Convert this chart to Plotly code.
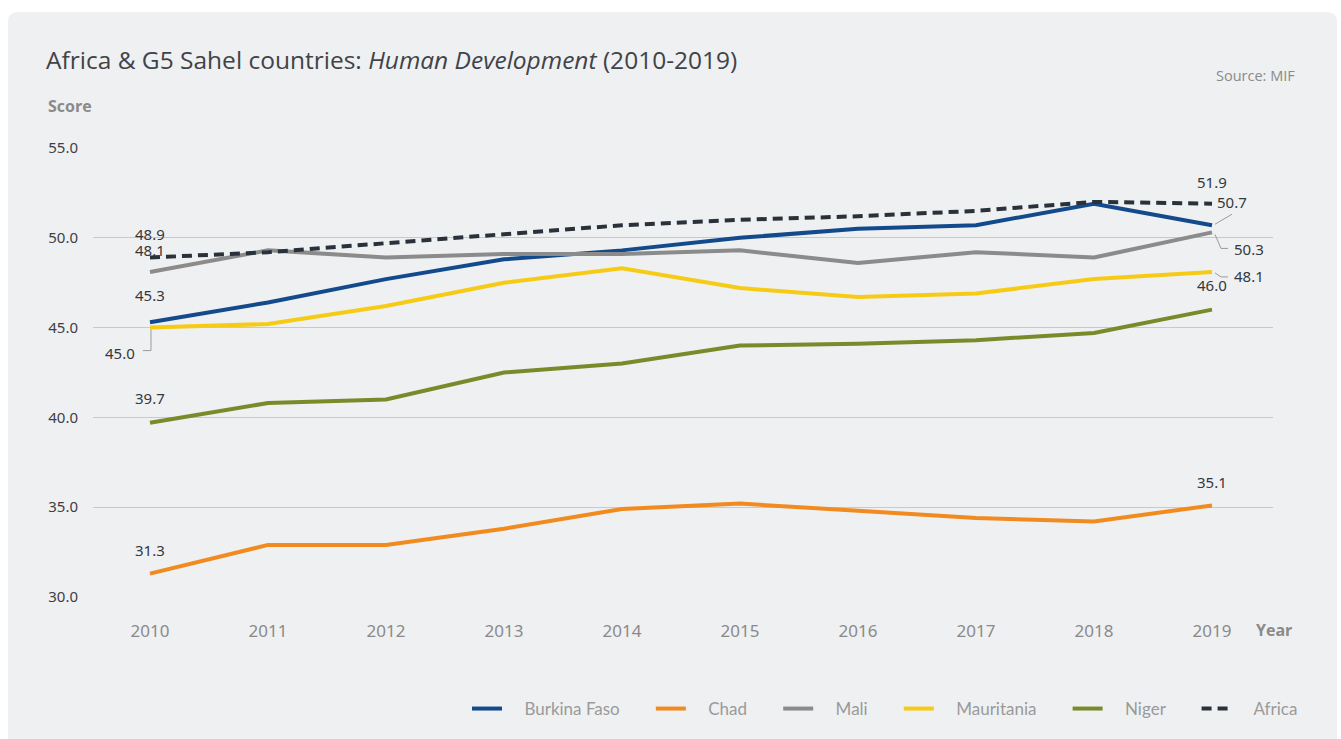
import plotly.graph_objects as go

# Human Development scores, 2010-2019
years = [2010, 2011, 2012, 2013, 2014, 2015, 2016, 2017, 2018, 2019]
burkina_faso = [45.3, 46.4, 47.7, 48.8, 49.3, 50.0, 50.5, 50.7, 51.9, 50.7]
chad = [31.3, 32.9, 32.9, 33.8, 34.9, 35.2, 34.8, 34.4, 34.2, 35.1]
mali = [48.1, 49.3, 48.9, 49.1, 49.1, 49.3, 48.6, 49.2, 48.9, 50.3]
mauritania = [45.0, 45.2, 46.2, 47.5, 48.3, 47.2, 46.7, 46.9, 47.7, 48.1]
niger = [39.7, 40.8, 41.0, 42.5, 43.0, 44.0, 44.1, 44.3, 44.7, 46.0]
africa = [48.9, 49.2, 49.7, 50.2, 50.7, 51.0, 51.2, 51.5, 52.0, 51.9]

y_ticks = [30, 35, 40, 45, 50, 55]

series = [
    ("Burkina Faso", burkina_faso, "#124a8c", "solid"),
    ("Chad", chad, "#f18a1f", "solid"),
    ("Mali", mali, "#8b8b8b", "solid"),
    ("Mauritania", mauritania, "#f6cb16", "solid"),
    ("Niger", niger, "#7a8a2a", "solid"),
    ("Africa", africa, "#29323a", "10px,6px"),
]

W, H = 1341, 739
L, R, T, B = 93, 68, 148, 142
PW, PH = W - L - R, H - T - B
CARD = "#eff0f2"
FONT = "'Open Sans', 'Noto Sans', sans-serif"
LEGFONT = "Lato, 'Open Sans', sans-serif"
NUMFONT = "'Noto Sans', 'Open Sans', sans-serif"
LEAD = "&nbsp;" * 4   # room between legend symbol and its text
PAD = "&nbsp;" * 6    # room between legend entries


def px_x(p):
    return (p - L) / PW


def px_y(p):
    return (H - B - p) / PH


fig = go.Figure()

for i, (name, vals, color, dash) in enumerate(series):
    label = LEAD + name + ("" if i == len(series) - 1 else PAD)
    fig.add_trace(go.Scatter(
        x=years, y=vals, name=label, mode="lines",
        line=dict(color=color, width=4, dash=dash),
        cliponaxis=False,
    ))

# value labels at the first and last year: (series values, index, xshift, yshift)
label_specs = [
    (africa, 0, 0, 24),
    (mali, 0, 0, 22),
    (burkina_faso, 0, 0, 27),
    (mauritania, 0, -30, -25),
    (niger, 0, 0, 25),
    (chad, 0, 0, 24),
    (africa, -1, 0, 22),
    (burkina_faso, -1, 20, 23),
    (mali, -1, 37, -17),
    (mauritania, -1, 37, -4),
    (niger, -1, 0, 25),
    (chad, -1, 0, 23),
]

annotations = []
for vals, idx, dx, dy in label_specs:
    annotations.append(dict(
        x=years[idx], y=vals[idx], xref="x", yref="y",
        text=f"{vals[idx]:.1f}", showarrow=False,
        xshift=dx, yshift=dy,
        font=dict(family=NUMFONT, size=15, color="#34383c"),
    ))

annotations += [
    dict(x=px_x(46), y=px_y(106), xref="paper", yref="paper", text="<b>Score</b>",
         showarrow=False, xanchor="left", yanchor="middle",
         font=dict(family=FONT, size=16, color="#8a8a8a")),
    dict(x=px_x(1297), y=px_y(75), xref="paper", yref="paper", text="Source: MIF",
         showarrow=False, xanchor="right", yanchor="middle",
         font=dict(family=FONT, size=14.5, color="#8a8a8a")),
    dict(x=px_x(1274), y=px_y(630), xref="paper", yref="paper", text="<b>Year</b>",
         showarrow=False, xanchor="center", yanchor="middle",
         font=dict(family=FONT, size=16, color="#8a8a8a")),
]

LEADER = dict(color="#9a9a9a", width=1)
shapes = [
    # card background
    dict(type="path", xref="paper", yref="paper", layer="below",
         path=(f"M {px_x(8)},{px_y(760)} L {px_x(8)},{px_y(22)} "
               f"Q {px_x(8)},{px_y(12)} {px_x(18)},{px_y(12)} "
               f"L {px_x(1327)},{px_y(12)} Q {px_x(1337)},{px_y(12)} {px_x(1337)},{px_y(22)} "
               f"L {px_x(1337)},{px_y(760)} Z"),
         fillcolor=CARD, line=dict(width=0)),
    # leader for Mauritania 2010
    dict(type="path", xref="x", yref="y", xsizemode="pixel", ysizemode="pixel",
         xanchor=years[0], yanchor=mauritania[0],
         path="M 1,-2 L 1,-23 L -7,-23", line=LEADER),
    # leader for Burkina Faso 2019
    dict(type="path", xref="x", yref="y", xsizemode="pixel", ysizemode="pixel",
         xanchor=years[-1], yanchor=burkina_faso[-1],
         path="M 3,1 L 20,11", line=LEADER),
    # leader for Mali 2019
    dict(type="path", xref="x", yref="y", xsizemode="pixel", ysizemode="pixel",
         xanchor=years[-1], yanchor=mali[-1],
         path="M 3,-2 L 9,-16 L 16,-16", line=LEADER),
    # leader for Mauritania 2019
    dict(type="path", xref="x", yref="y", xsizemode="pixel", ysizemode="pixel",
         xanchor=years[-1], yanchor=mauritania[-1],
         path="M 3,-1 L 9,-5 L 16,-5", line=LEADER),
]

fig.update_layout(
    width=W, height=H,
    margin=dict(l=L, r=R, t=T, b=B),
    paper_bgcolor="white",
    plot_bgcolor="rgba(0,0,0,0)",
    title=dict(
        text="Africa &amp; G5 Sahel countries: <i>Human Development</i> (2010-2019)",
        x=46 / W, xanchor="left", y=1 - 60 / H, yanchor="middle",
        font=dict(family=FONT, size=24.5, color="#404348"),
    ),
    xaxis=dict(
        range=[2009.517, 2019.517], tickvals=years, ticktext=[str(y) for y in years],
        showgrid=False, zeroline=False, showline=False, ticks="",
        tickfont=dict(family=NUMFONT, size=17, color="#8a8a8a"),
        ticklabelstandoff=22,
    ),
    yaxis=dict(
        range=[30, 55], tickvals=y_ticks, ticktext=[f"{v:.1f}" for v in y_ticks],
        showgrid=True, gridcolor="#c9c9c9", gridwidth=1, zeroline=False,
        showline=False, ticks="",
        tickfont=dict(family=NUMFONT, size=15, color="#3d4045"),
        ticklabelstandoff=14,
    ),
    legend=dict(
        orientation="h", x=px_x(1303), xanchor="right", y=px_y(709), yanchor="middle",
        font=dict(family=LEGFONT, size=17, color="#9a9a9a"),
        bgcolor="rgba(0,0,0,0)", itemwidth=30, tracegroupgap=0,
    ),
    annotations=annotations,
    shapes=shapes,
    showlegend=True,
)

fig.write_html("out.html")
